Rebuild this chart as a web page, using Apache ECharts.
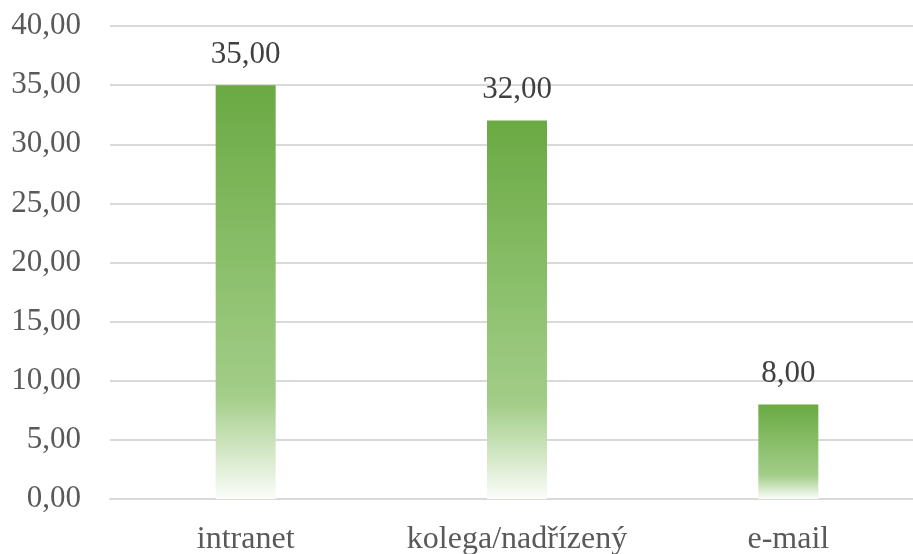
<!DOCTYPE html>
<html>
<head>
<meta charset="utf-8">
<script src="https://cdn.jsdelivr.net/npm/echarts@6/dist/echarts.min.js"></script>
<style>
    html, body { margin: 0; padding: 0; background: #fff; }
    #chart { width: 913px; height: 554px; }
</style>
</head>
<body>
<div id="chart"></div>
<script>
// Data
var categories = ['intranet', 'kolega/nadřízený', 'e-mail'];
var values = [35, 32, 8];
var yMin = 0, yMax = 40, yStep = 5;

// Czech style number: 35,00
function fmt(v) {
    return Number(v).toFixed(2).replace('.', ',');
}

var chart = echarts.init(document.getElementById('chart'));
chart.setOption({
    animation: false,
    textStyle: { fontFamily: 'Liberation Serif' },
    grid: {
        left: 110,
        right: -11,
        top: 26,
        bottom: 55,
        outerBoundsMode: 'none'
    },
    xAxis: {
        type: 'category',
        data: categories,
        axisLine: { lineStyle: { color: '#d9d9d9', width: 2 } },
        axisTick: { show: false },
        axisLabel: {
            color: '#595959',
            fontSize: 32,
            fontFamily: 'Liberation Serif',
            margin: 25,
            interval: 0,
            hideOverlap: false
        }
    },
    yAxis: {
        type: 'value',
        min: yMin,
        max: yMax,
        interval: yStep,
        axisLine: { show: false },
        axisTick: { show: false },
        splitLine: { lineStyle: { color: '#d9d9d9', width: 2 } },
        axisLabel: {
            color: '#595959',
            fontSize: 31,
            fontFamily: 'Liberation Serif',
            margin: 29,
            formatter: fmt
        }
    },
    series: [{
        type: 'bar',
        data: values,
        barWidth: 60,
        itemStyle: {
            color: new echarts.graphic.LinearGradient(0, 0, 0, 1, [
                { offset: 0, color: '#6aa943' },
                { offset: 0.45, color: '#8cc06c' },
                { offset: 0.75, color: '#a3cd89' },
                { offset: 1, color: '#fbfdf9' }
            ])
        },
        label: {
            show: true,
            position: 'top',
            distance: 15,
            color: '#404040',
            fontSize: 31,
            fontFamily: 'Liberation Serif',
            formatter: function (p) { return fmt(p.value); }
        }
    }]
});
</script>
</body>
</html>
